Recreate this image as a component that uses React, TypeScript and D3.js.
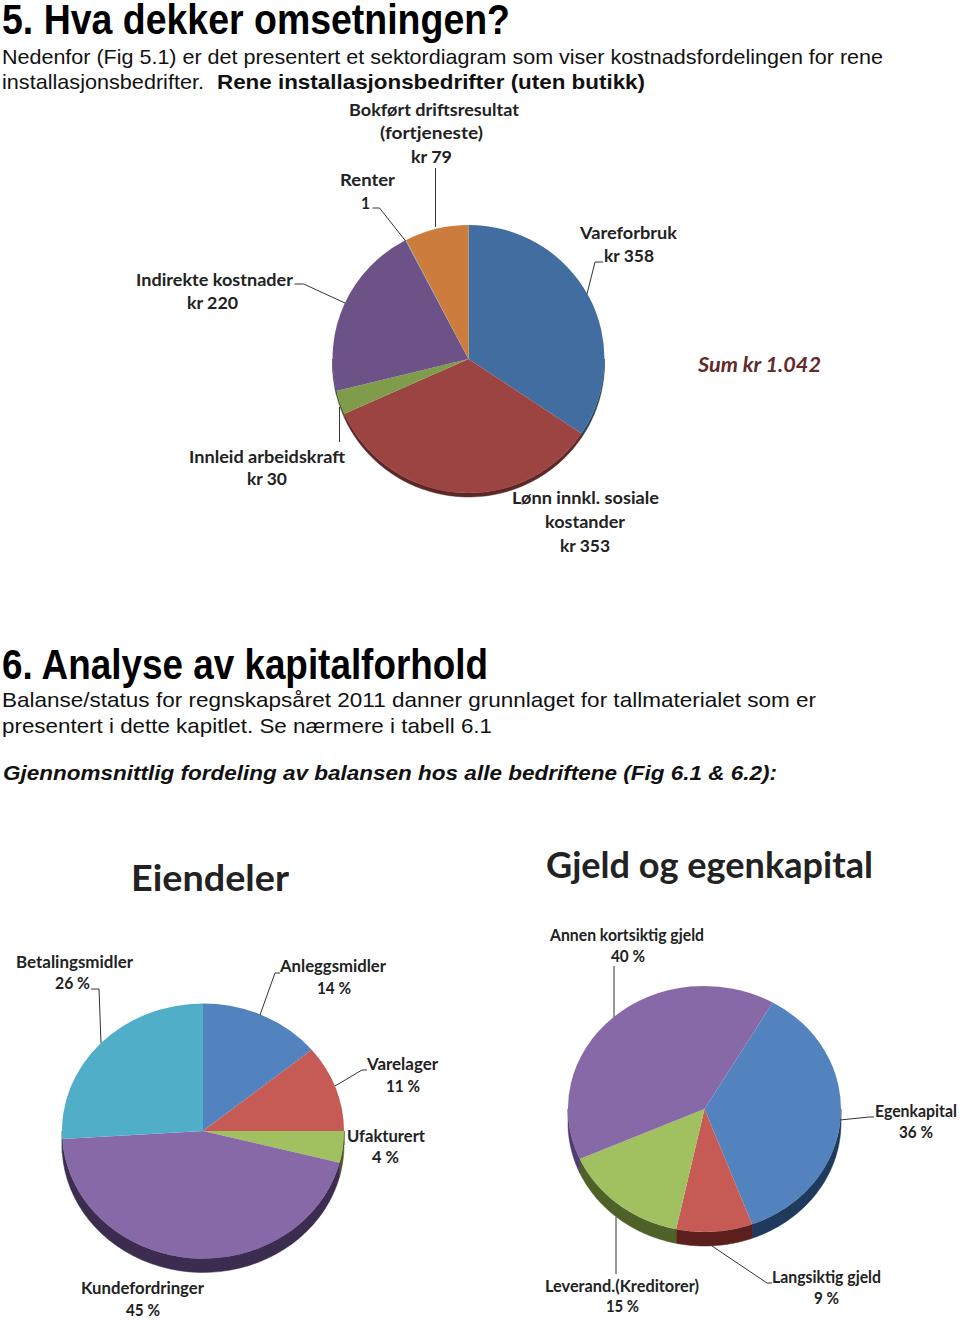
import React from "react";
import * as d3 from "d3";

const costNames = ["Vareforbruk", "Lønn innkl. sosiale kostander", "Innleid arbeidskraft", "Indirekte kostnader", "Renter", "Bokført driftsresultat (fortjeneste)"];
const costValues = [358, 353, 30, 220, 1, 79];
const costColors = ["#426da0", "#9c4442", "#7f9c4a", "#6c5286", "#4f9fb5", "#cc7c3c"];
const costSides = ["#27415f", "#5c2827", "#4b5d2c", "#40304f", "#2f5f6b", "#794a24"];

const assetNames = ["Anleggsmidler", "Varelager", "Ufakturert", "Kundefordringer", "Betalingsmidler"];
const assetValues = [14, 11, 4, 45, 26];
const assetColors = ["#5383be", "#c65b56", "#a1c060", "#8869a8", "#50aec9"];
const assetSides = ["#253b58", "#5b2522", "#4a5a28", "#3c2d50", "#255560"];

const debtNames = ["Egenkapital", "Langsiktig gjeld", "Leverand.(Kreditorer)", "Annen kortsiktig gjeld"];
const debtValues = [36, 9, 15, 40];
const debtColors = ["#5383be", "#c65b56", "#a1c060", "#8869a8"];
const debtSides = ["#1f3a5c", "#5b201d", "#4e6128", "#4f3c70"];

const SANS = "'Liberation Sans', Arial, sans-serif";
const LABEL = "Lato, 'Open Sans', sans-serif";

type TP = { x: number; y: number; w: number; s: string; size?: number; bold?: boolean; italic?: boolean; fill?: string; font?: string };
const T = ({ x, y, w, s, size = 21, bold, italic, fill = "#111", font = SANS }: TP) => (
  <text x={x} y={y} textLength={w} lengthAdjust="spacingAndGlyphs" fontFamily={font} fontSize={size}
    fontWeight={bold ? 700 : 400} fontStyle={italic ? "italic" : "normal"} fill={fill}>{s}</text>
);
const L = ({ x0, x1, y, s }: { x0: number; x1: number; y: number; s: string }) => (
  <T x={x0} y={y} w={x1 - x0} s={s} size={17.5} bold font={LABEL} fill="#222" />
);
const Lead = ({ pts }: { pts: [number, number][] }) => (
  <path d={d3.line()(pts) as string} fill="none" stroke="#333" strokeWidth={1} />
);

type PieP = { values: number[]; colors: string[]; sides: string[]; cx: number; cy: number; rx: number; ry: number; depth: number; start: number };
function Pie({ values, colors, sides, cx, cy, rx, ry, depth, start }: PieP) {
  const a0 = (start * Math.PI) / 180;
  const slices = d3.pie<number>().sort(null).startAngle(a0).endAngle(a0 + 2 * Math.PI)(values);
  const arc = d3.arc<d3.PieArcDatum<number>>().innerRadius(0).outerRadius(1);
  const sx = (a: number) => cx + rx * Math.sin(a);
  const sy = (a: number) => cy - ry * Math.cos(a);
  const sidePath = (s: d3.PieArcDatum<number>) => {
    const lo = Math.max(s.startAngle, Math.PI / 2);
    const hi = Math.min(s.endAngle, (3 * Math.PI) / 2);
    if (hi <= lo) return null;
    const as = d3.range(0, 41).map((i) => lo + ((hi - lo) * i) / 40);
    const top = as.map((a) => [sx(a), sy(a)] as [number, number]);
    const bot = as.slice().reverse().map((a) => [sx(a), sy(a) + depth] as [number, number]);
    return d3.line()(top.concat(bot)) + "Z";
  };
  return (
    <g>
      {slices.map((s, i) => {
        const d = sidePath(s);
        return d ? <path key={i} d={d} fill={sides[i]} stroke={sides[i]} strokeWidth={0.5} /> : null;
      })}
      <g transform={`translate(${cx},${cy}) scale(${rx},${ry})`}>
        {slices.map((s, i) => <path key={i} d={arc(s) as string} fill={colors[i]} />)}
      </g>
    </g>
  );
}

export default function App() {
  return (
    <svg width={960} height={1323} viewBox="0 0 960 1323" style={{ position: "absolute", left: 0, top: 0, background: "#fff" }}>
      <T x={2} y={34} w={508} s="5.  Hva dekker omsetningen?" size={43} bold fill="#000" />
      <T x={2} y={64} w={881} s="Nedenfor (Fig 5.1) er det presentert et sektordiagram som viser kostnadsfordelingen for rene" />
      <T x={2} y={89} w={202} s="installasjonsbedrifter." />
      <T x={217} y={89} w={428} s="Rene installasjonsbedrifter (uten butikk)" bold />

      <Pie values={costValues} colors={costColors} sides={costSides} cx={468.5} cy={359} rx={136} ry={134} depth={4} start={0} />
      <Lead pts={[[435.5, 168], [435.5, 227]]} />
      <Lead pts={[[372.5, 208], [379.5, 208], [405.6, 241]]} />
      <Lead pts={[[603, 262], [595, 262], [587, 294]]} />
      <Lead pts={[[294.5, 284], [303.7, 284], [345, 303]]} />
      <Lead pts={[[339.5, 407], [339.5, 442]]} />
      <L x0={349} x1={519} y={116} s="Bokført driftsresultat" />
      <L x0={380} x1={483} y={139} s="(fortjeneste)" />
      <L x0={411} x1={452} y={163} s="kr 79" />
      <L x0={340} x1={395} y={186} s="Renter" />
      <L x0={361} x1={370} y={209} s="1" />
      <L x0={580} x1={677} y={239} s="Vareforbruk" />
      <L x0={604} x1={654} y={262} s="kr 358" />
      <L x0={136} x1={293} y={286} s="Indirekte kostnader" />
      <L x0={187} x1={238} y={309} s="kr 220" />
      <L x0={189} x1={345} y={463} s="Innleid arbeidskraft" />
      <L x0={247} x1={287} y={485} s="kr 30" />
      <L x0={512} x1={659} y={504} s="Lønn innkl. sosiale" />
      <L x0={545} x1={625} y={528} s="kostander" />
      <L x0={560} x1={610} y={552} s="kr 353" />
      <T x={698} y={372} w={123} s="Sum kr 1.042" size={20} bold italic font={LABEL} fill="#622a2a" />

      <T x={2} y={679} w={486} s="6. Analyse av kapitalforhold" size={43} bold fill="#000" />
      <T x={2} y={707} w={814} s="Balanse/status for regnskapsåret 2011 danner grunnlaget for tallmaterialet som er" />
      <T x={2} y={733} w={490} s="presentert i dette kapitlet. Se nærmere i tabell 6.1" />
      <T x={3} y={780} w={774} s="Gjennomsnittlig fordeling av balansen hos alle bedriftene (Fig 6.1 & 6.2):" bold italic />

      <T x={131} y={891} w={158} s="Eiendeler" size={37} bold font={LABEL} fill="#222" />
      <T x={546} y={878} w={327} s="Gjeld og egenkapital" size={36} bold font={LABEL} fill="#222" />

      <Pie values={assetValues} colors={assetColors} sides={assetSides} cx={203} cy={1131} rx={141} ry={127.5} depth={14} start={0} />
      <Lead pts={[[91, 989], [99, 989], [101, 1043]]} />
      <Lead pts={[[280, 973], [275, 973], [260, 1015]]} />
      <Lead pts={[[367, 1070], [362, 1070], [335, 1086]]} />
      <L x0={16} x1={133} y={968} s="Betalingsmidler" />
      <L x0={55} x1={90} y={989} s="26 %" />
      <L x0={280} x1={386} y={972} s="Anleggsmidler" />
      <L x0={317} x1={351} y={994} s="14 %" />
      <L x0={367} x1={438} y={1070} s="Varelager" />
      <L x0={386} x1={420} y={1092} s="11 %" />
      <L x0={347} x1={425} y={1142} s="Ufakturert" />
      <L x0={372} x1={399} y={1163} s="4 %" />
      <L x0={81} x1={204} y={1294} s="Kundefordringer" />
      <L x0={126} x1={160} y={1316} s="45 %" />

      <Pie values={debtValues} colors={debtColors} sides={debtSides} cx={704.5} cy={1109} rx={136.5} ry={123} depth={14} start={30} />
      <Lead pts={[[614, 966], [614, 1017]]} />
      <Lead pts={[[874, 1117], [869, 1117], [840, 1120]]} />
      <Lead pts={[[772, 1283], [767, 1283], [712, 1246]]} />
      <Lead pts={[[616, 1217], [616, 1274]]} />
      <L x0={550} x1={704} y={941} s="Annen kortsiktig gjeld" />
      <L x0={611} x1={645} y={962} s="40 %" />
      <L x0={875} x1={957} y={1117} s="Egenkapital" />
      <L x0={899} x1={933} y={1138} s="36 %" />
      <L x0={772} x1={881} y={1283} s="Langsiktig gjeld" />
      <L x0={814} x1={839} y={1304} s="9 %" />
      <L x0={545} x1={699} y={1292} s="Leverand.(Kreditorer)" />
      <L x0={606} x1={639} y={1312} s="15 %" />
    </svg>
  );
}
